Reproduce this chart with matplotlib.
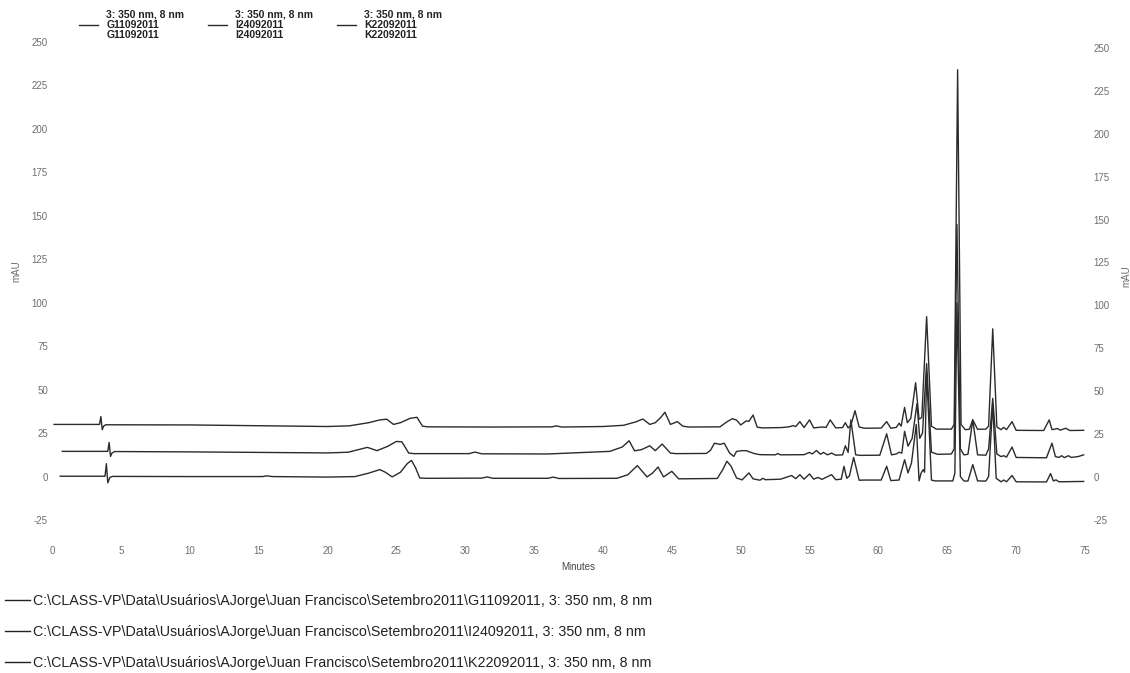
import matplotlib
matplotlib.use("Agg")
import matplotlib.pyplot as plt
from matplotlib.lines import Line2D

plt.rcParams['font.family'] = ['Liberation Sans', 'DejaVu Sans']
plt.rcParams['axes.unicode_minus'] = False

# chromatogram traces: retention time (min) and mAU vertices
g_time = [0.15, 3.45, 3.55, 3.65, 3.75, 3.9, 10, 20, 21.6, 23.0, 23.8, 24.3, 24.8, 25.3, 26.0, 26.5, 26.9, 27.3,
          32, 36.3, 36.6, 37.0, 40.0, 41.5, 42.4, 42.9, 43.4, 43.8, 44.2, 44.5, 44.9, 45.4, 45.8, 46.2,
          48.5, 49.0, 49.4, 49.7, 50.0, 50.4, 50.6, 50.9, 51.2, 51.6, 53.0, 53.5, 53.8, 54.0, 54.3, 54.6,
          55.0, 55.3, 55.9, 56.2, 56.5, 56.9, 57.4, 57.6, 57.8, 58.0, 58.3, 58.6, 59.0, 60.2, 60.6, 60.9,
          61.3, 61.5, 61.65, 61.9, 62.1, 62.35, 62.7, 62.95, 63.15, 63.5, 63.85, 64.2, 65.3, 65.5, 65.75,
          66.0, 66.3, 66.6, 66.85, 67.2, 67.8, 68.0, 68.3, 68.6, 68.9, 69.1, 69.3, 69.7, 70.0, 72.0, 72.4,
          72.6, 73.0, 73.2, 73.6, 73.9, 74.9]
g_mau = [30.0, 30.0, 34.5, 27.0, 29.0, 29.8, 29.7, 28.8, 29.2, 31.0, 32.6, 33.0, 30.0, 31.0, 33.5, 34.1, 29.0, 28.6,
         28.5, 28.6, 29.2, 28.5, 28.8, 29.5, 31.5, 33.1, 30.0, 31.0, 34.0, 37.0, 30.0, 31.6, 29.0, 28.5,
         28.6, 31.5, 33.3, 32.5, 29.7, 32.0, 31.8, 35.4, 28.4, 28.0, 28.2, 28.6, 29.3, 28.8, 31.6, 28.2,
         32.6, 28.0, 28.5, 28.3, 32.6, 28.0, 28.2, 31.0, 28.0, 29.5, 37.9, 28.5, 27.8, 27.9, 31.6, 27.8,
         28.3, 30.7, 29.0, 39.8, 31.0, 33.5, 54.0, 33.0, 34.0, 92.0, 29.0, 27.3, 27.3, 30.0, 234.0,
         30.0, 27.0, 27.2, 32.6, 27.2, 27.3, 29.0, 85.0, 28.5, 27.0, 28.3, 27.0, 31.6, 26.6, 26.5, 32.6,
         27.0, 27.6, 26.7, 27.8, 26.5, 26.6]

i_time = [0.75, 4.05, 4.15, 4.25, 4.35, 4.55, 10, 20, 21.5, 22.4, 22.9, 23.6, 24.4, 25.0, 25.4, 25.9, 26.3,
          30.3, 30.7, 31.2, 36, 40.5, 41.4, 41.9, 42.3, 42.8, 43.4, 43.8, 44.3, 44.9, 45.3, 47.5, 47.8,
          48.1, 48.5, 48.8, 49.2, 49.5, 49.7, 50.1, 50.4, 51.0, 51.4, 52.5, 52.7, 52.9, 54.6, 55.0, 55.2,
          55.5, 55.8, 56.0, 56.3, 56.6, 56.9, 57.4, 57.6, 57.8, 58.0, 58.35, 58.7, 60.1, 60.6, 60.95, 61.3,
          61.5, 61.7, 61.9, 62.15, 62.45, 62.8, 63.0, 63.2, 63.5, 63.85, 64.3, 65.3, 65.5, 65.7, 65.95,
          66.2, 66.5, 66.85, 67.2, 67.8, 68.0, 68.3, 68.6, 68.9, 69.1, 69.3, 69.7, 70.0, 72.2, 72.6, 72.85,
          73.1, 73.3, 73.5, 73.8, 74.0, 74.5, 74.9]
i_mau = [14.5, 14.5, 19.6, 11.6, 13.5, 14.4, 14.2, 13.6, 14.0, 15.8, 16.8, 14.9, 17.5, 20.2, 20.0, 13.5, 13.2,
         13.2, 14.1, 13.1, 13.0, 14.5, 17.0, 20.6, 14.8, 15.5, 17.7, 14.9, 18.7, 13.5, 13.2, 13.3, 15.0,
         19.2, 18.5, 19.2, 13.5, 11.6, 14.5, 14.9, 14.9, 13.2, 12.6, 12.5, 13.2, 12.5, 12.6, 13.9, 13.0,
         15.0, 12.8, 13.9, 12.5, 13.5, 12.3, 12.5, 17.7, 13.9, 32.6, 12.5, 12.2, 12.3, 24.6, 12.5, 13.0,
         14.0, 13.5, 26.0, 17.5, 22.0, 42.0, 22.0, 25.0, 65.0, 14.0, 12.8, 13.0, 16.0, 145.0, 16.0,
         12.5, 12.8, 32.6, 12.5, 12.3, 16.0, 45.0, 13.0, 11.5, 12.0, 11.2, 17.0, 11.0, 10.8, 19.2, 11.5,
         11.0, 12.0, 10.9, 12.0, 11.0, 11.5, 12.5]

k_time = [0.6, 3.85, 3.95, 4.05, 4.2, 4.4, 10, 15.3, 15.6, 16.0, 20, 22.0, 23.0, 23.8, 24.2, 24.7, 25.3, 25.8,
          26.1, 26.4, 26.7, 27.2, 31.2, 31.6, 32.0, 36.0, 36.4, 36.8, 41.0, 41.8, 42.5, 43.2, 43.6, 44.0,
          44.4, 45.0, 45.5, 48.3, 48.7, 49.0, 49.3, 49.7, 50.1, 50.6, 50.9, 51.4, 51.6, 51.8, 52.9, 53.7,
          54.0, 54.3, 54.6, 55.0, 55.3, 55.6, 55.9, 56.6, 56.9, 57.3, 57.5, 57.7, 57.9, 58.2, 58.6, 59.0,
          60.2, 60.6, 60.9, 61.5, 61.9, 62.15, 62.4, 62.75, 62.95, 63.1, 63.25, 63.35, 63.5, 63.85, 64.1,
          65.4, 65.55, 65.7, 65.95, 66.2, 66.5, 66.85, 67.2, 67.8, 68.0, 68.3, 68.55, 68.9, 69.1, 69.3,
          69.7, 70.0, 72.2, 72.5, 72.7, 72.9, 73.1, 74.9]
k_mau = [0.2, 0.2, 7.4, -3.6, -0.5, 0.1, 0.0, 0.0, 0.4, 0.0, -0.3, 0.0, 2.0, 4.0, 2.5, -0.2, 2.5, 7.5,
         9.3, 5.0, -0.8, -1.0, -0.9, -0.2, -1.0, -1.0, -0.3, -1.1, -1.0, 1.0, 6.3, -0.2, 2.0, 5.5,
         -0.2, 3.0, -1.3, -1.1, 4.0, 8.8, 6.0, -0.8, -1.9, 2.1, -1.3, -2.1, -1.0, -1.8, -1.5, 0.6,
         -1.2, 1.1, -1.5, 1.5, -1.5, -0.5, -1.6, 1.1, -1.8, -1.5, 5.9, -1.0, 0.5, 11.0, -2.1, -2.0,
         -2.0, 5.9, -2.3, -2.0, 9.7, 2.1, 7.8, 30.0, -2.5, 2.0, 4.0, 2.5, 60.0, -2.0, -2.5,
         -2.5, 2.0, 100.0, 0.0, -2.5, -2.6, 6.9, -2.5, -2.6, 0.0, 42.0, -1.0, -3.0, -2.0, -3.0,
         0.6, -3.0, -3.1, 1.7, -2.5, -1.9, -3.0, -2.8]

samples = ['G11092011', 'I24092011', 'K22092011']
channel = '3: 350 nm, 8 nm'
data_dir = 'C:\\CLASS-VP\\Data\\Usuários\\AJorge\\Juan Francisco\\Setembro2011\\'
x_ticks = list(range(0, 80, 5))
y_ticks = list(range(-25, 275, 25))

trace_col = '#2b2b2b'
tick_col = '#6e6e6e'

fig = plt.figure(figsize=(11.3, 6.73), dpi=100)
ax = fig.add_axes([0.046, 0.2273, 0.9142, 0.7103])

lines = []
for t, y in [(g_time, g_mau), (i_time, i_mau), (k_time, k_mau)]:
    ln, = ax.plot(t, y, color=trace_col, lw=1.0)
    lines.append(ln)

ax.set_xlim(0, 75)
ax.set_ylim(-25, 250)
ax.set_xticks(x_ticks)
ax.set_yticks(y_ticks)
for s in ax.spines.values():
    s.set_visible(False)
ax.tick_params(axis='both', length=0, labelsize=7, labelcolor=tick_col)
ax.tick_params(axis='x', pad=19)
ax.tick_params(axis='y', pad=3)
ax.set_xlabel('Minutes', fontsize=7, color='#444444')
ax.xaxis.set_label_coords(0.509, -0.088)
ax.set_ylabel('mAU', fontsize=7, color=tick_col)
ax.yaxis.set_label_coords(-0.03, 0.52)

# right hand axis (scan is slightly skewed, so labels sit a few px lower)
ax2 = ax.twinx()
ax2.set_ylim(-25 + 3.4, 250 + 3.4)
ax2.set_yticks(y_ticks)
for s in ax2.spines.values():
    s.set_visible(False)
ax2.tick_params(axis='y', length=0, labelsize=7, labelcolor=tick_col, pad=6)
ax2.set_ylabel('mAU', fontsize=7, color=tick_col)
ax2.yaxis.set_label_coords(1.035, 0.51)

# top legend
labels = [channel + '\n' + s + '\n' + s for s in samples]
leg = ax.legend(lines, labels, ncol=3, loc='upper left', bbox_to_anchor=(0.0655, 0.993),
                bbox_transform=fig.transFigure, frameon=False, fontsize=7.5,
                handlelength=1.8, handletextpad=0.8, columnspacing=2.3, borderpad=0)
for txt in leg.get_texts():
    txt.set_linespacing(1.0)
    txt.set_fontweight('bold')
    txt.set_color('#222222')

# file path legend underneath
paths = [data_dir + s + ', ' + channel for s in samples]
handles = [Line2D([], [], color='#222222', lw=1.0) for _ in samples]
fig.legend(handles, paths, loc='upper left', bbox_to_anchor=(-0.0015, 0.128),
           bbox_transform=fig.transFigure, frameon=False, fontsize=10.3, ncol=1,
           handlelength=1.75, handletextpad=0.15, labelspacing=1.2, borderpad=0,
           labelcolor='#222222')

fig.savefig('out.png', dpi=100)
